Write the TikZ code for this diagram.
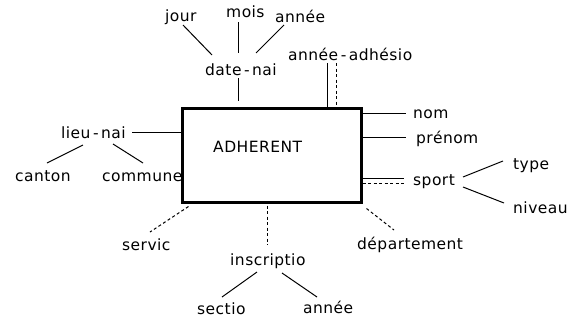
\documentclass[tikz,border=0pt]{standalone}
\usepackage{fontspec}
\setmainfont{DejaVu Sans}[LetterSpace=3]
\newcommand{\hy}{\kern2.5pt-\kern2.5pt}
\begin{document}
\begin{tikzpicture}[x=1pt,y=-1pt,
  lbl/.style={inner sep=0pt,anchor=base west,font=\fontsize{15.5}{18}\selectfont},
  conn/.style={line width=1pt},
  dconn/.style={line width=1pt,dash pattern=on 3pt off 2.5pt},
  entity/.style={draw,line width=3pt,minimum width=179pt,minimum height=94pt,inner sep=0pt}]
\useasboundingbox (0,0) rectangle (572,322);
% entity
\node[entity] (adh) at (271.5,155) {};
\node[lbl] (adhlabel) at (213,152) {ADHERENT};
% labels
\node[lbl] (jour) at (165,21) {jour};
\node[lbl] (mois) at (226,17) {mois};
\node[lbl] (annee1) at (275,22) {année};
\node[lbl] (datenai) at (205,75) {date\hy nai};
\node[lbl] (anneeadh) at (288,60) {année\hy adhésio};
\node[lbl] (lieunai) at (61,138) {lieu\hy nai};
\node[lbl] (canton) at (15,181) {canton};
\node[lbl] (commune) at (102,181) {commune};
\node[lbl] (nom) at (413,118) {nom};
\node[lbl] (prenom) at (416,143) {prénom};
\node[lbl] (sport) at (413,185) {sport};
\node[lbl] (type) at (513,169) {type};
\node[lbl] (niveau) at (513,213) {niveau};
\node[lbl] (departement) at (357,249) {département};
\node[lbl] (servic) at (122,250) {servic};
\node[lbl] (inscriptio) at (230,265) {inscriptio};
\node[lbl] (sectio) at (197,314) {sectio};
\node[lbl] (annee2) at (303,313) {année};
% connectors top
\draw[conn] ([shift={(18,4)}]jour.base west) -- ([shift={(7,-20)}]datenai.base west);
\draw[conn] ([shift={(12,5)}]mois.base west) -- ([shift={(33,-22)}]datenai.base west);
\draw[conn] ([shift={(9,3)}]annee1.base west) -- ([shift={(51,-22)}]datenai.base west);
\draw[conn] ([shift={(33,3)}]datenai.base west) -- ([shift={(-33.5,-6)}]adh.north);
\draw[conn] ([shift={(39,3)}]anneeadh.base west) -- ([shift={(55.5,0)}]adh.north);
\draw[dconn] ([shift={(48,3)}]anneeadh.base west) -- ([shift={(64.5,0)}]adh.north);
% left
\draw[conn] ([shift={(71,-5.5)}]lieunai.base west) -- ([shift={(0,-22.5)}]adh.west);
\draw[conn] ([shift={(22,7)}]lieunai.base west) -- ([shift={(32,-18)}]canton.base west);
\draw[conn] ([shift={(52,6)}]lieunai.base west) -- ([shift={(41,-18)}]commune.base west);
% right
\draw[conn] ([shift={(0,-42)}]adh.east) -- ([shift={(-7,-5)}]nom.base west);
\draw[conn] ([shift={(0,-17.5)}]adh.east) -- ([shift={(-10,-5.5)}]prenom.base west);
\draw[conn] ([shift={(0,23.5)}]adh.east) -- ([shift={(-9,-6.5)}]sport.base west);
\draw[dconn] ([shift={(0,28)}]adh.east) -- ([shift={(-9,-2)}]sport.base west);
\draw[conn] ([shift={(50,-8)}]sport.base west) -- ([shift={(-10,-8)}]type.base west);
\draw[conn] ([shift={(50,2)}]sport.base west) -- ([shift={(-9,-10)}]niveau.base west);
\draw[dconn] ([shift={(4,5)}]adh.south east) -- ([shift={(37,-19)}]departement.base west);
% bottom
\draw[dconn] ([shift={(8,3)}]adh.south west) -- ([shift={(28,-18)}]servic.base west);
\draw[dconn] ([shift={(-4.5,2)}]adh.south) -- ([shift={(37,-20)}]inscriptio.base west);
\draw[conn] ([shift={(27,7)}]inscriptio.base west) -- ([shift={(25,-17)}]sectio.base west);
\draw[conn] ([shift={(52,8)}]inscriptio.base west) -- ([shift={(14,-16)}]annee2.base west);
\end{tikzpicture}
\end{document}
